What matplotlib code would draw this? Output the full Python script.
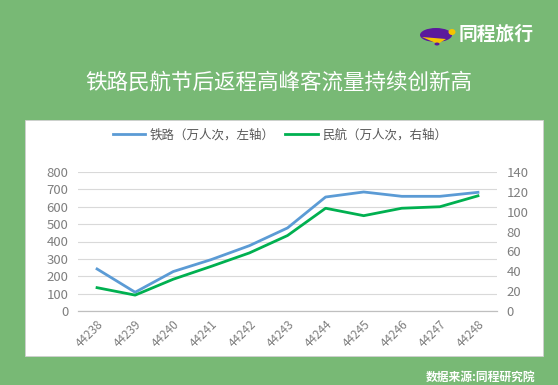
import matplotlib
matplotlib.use("Agg")
import matplotlib.pyplot as plt
from matplotlib.patches import Rectangle, Ellipse, Polygon

plt.rcParams['font.family'] = ['Noto Sans CJK SC', 'DejaVu Sans']

# ── Data ──────────────────────────────────────────────────
dates = ['44238', '44239', '44240', '44241', '44242', '44243',
         '44244', '44245', '44246', '44247', '44248']
railway = [242, 108, 227, 296, 376, 478, 656, 685, 660, 660, 683]
aviation = [23.5, 16, 32, 45, 58.5, 76, 103.5, 96, 103.5, 105, 116]

left_ticks = [0, 100, 200, 300, 400, 500, 600, 700, 800]
right_ticks = [0, 20, 40, 60, 80, 100, 120, 140]

BG = '#78b975'
BLUE = '#5b9bd5'
GREEN = '#00b050'
GRAY = '#7f7f7f'

fig = plt.figure(figsize=(5.58, 3.85), dpi=100)
fig.patch.set_facecolor(BG)

# white panel
fig.patches.append(Rectangle((25 / 558, 1 - 356 / 385), 518 / 558, 236 / 385,
                             transform=fig.transFigure, facecolor='white',
                             edgecolor='#d0d0d0', linewidth=0.6, zorder=-5))

# ── Header ────────────────────────────────────────────────
fig.text(279 / 558, 1 - 83 / 385, '铁路民航节后返程高峰客流量持续创新高',
         color='white', fontsize=15.5, ha='center', va='center')

# logo: simple blimp + name
fig.patches.append(Ellipse((436 / 558, 1 - 35 / 385), 32 / 558, 14 / 385,
                           transform=fig.transFigure, facecolor='#5b1a9c',
                           edgecolor='none', zorder=2))
fig.patches.append(Polygon([(422 / 558, 1 - 37 / 385), (446 / 558, 1 - 39 / 385),
                            (438 / 558, 1 - 44 / 385)],
                           closed=True, transform=fig.transFigure,
                           facecolor='#f5c400', edgecolor='none', zorder=3))
fig.patches.append(Ellipse((452 / 558, 1 - 32 / 385), 7 / 558, 6 / 385,
                           transform=fig.transFigure, facecolor='#f5c400',
                           edgecolor='none', zorder=3))
fig.patches.append(Ellipse((437 / 558, 1 - 44 / 385), 5 / 558, 3 / 385,
                           transform=fig.transFigure, facecolor='#5b1a9c',
                           edgecolor='none', zorder=3))
fig.text(459 / 558, 1 - 34 / 385, '同程旅行', color='white', fontsize=13.5,
         fontweight='bold', fontstyle='italic', ha='left', va='center')

fig.text(535 / 558, 1 - 377 / 385, '数据来源:同程研究院', color='white',
         fontsize=8.5, fontweight='bold', ha='right', va='center')

# ── Chart ─────────────────────────────────────────────────
ax = fig.add_axes([78 / 558, 1 - 311 / 385, 419 / 558, 139 / 385])
ax.set_facecolor('none')
x = list(range(len(dates)))

ax.plot(x, railway, color=BLUE, linewidth=2, label='铁路（万人次，左轴）', zorder=3)
ax.set_ylim(0, 800)
ax.set_xlim(-0.5, len(dates) - 0.5)
ax.set_yticks(left_ticks)
ax.yaxis.grid(True, color='#d9d9d9', linewidth=0.8)
ax.set_axisbelow(True)

ax2 = ax.twinx()
ax2.plot(x, aviation, color=GREEN, linewidth=2, label='民航（万人次，右轴）', zorder=3)
ax2.set_ylim(0, 140)
ax2.set_yticks(right_ticks)

for a in (ax, ax2):
    for s in ('top', 'left', 'right'):
        a.spines[s].set_visible(False)
    a.spines['bottom'].set_color('#bfbfbf')
    a.tick_params(axis='y', length=0, colors=GRAY, labelsize=9.5, pad=7)

ax.set_xticks([i - 0.5 for i in range(len(dates) + 1)], minor=False)
ax.set_xticklabels([])
ax.tick_params(axis='x', length=4, color='#bfbfbf', direction='out')
ax.set_xticks(x, minor=True)
ax.set_xticklabels(dates, minor=True, rotation=45, ha='right',
                   rotation_mode='anchor', fontsize=8.5, color=GRAY)
ax.tick_params(axis='x', which='minor', length=0, pad=5)
ax2.set_xticks([])

h1, l1 = ax.get_legend_handles_labels()
h2, l2 = ax2.get_legend_handles_labels()
fig.legend(h1 + h2, l1 + l2, loc='center', bbox_to_anchor=(280 / 558, 1 - 135 / 385),
           ncol=2, frameon=False, fontsize=9, labelcolor='#595959',
           handlelength=2.6, columnspacing=0.8, handletextpad=0.4)

fig.savefig('out.png', dpi=100, facecolor=BG)
